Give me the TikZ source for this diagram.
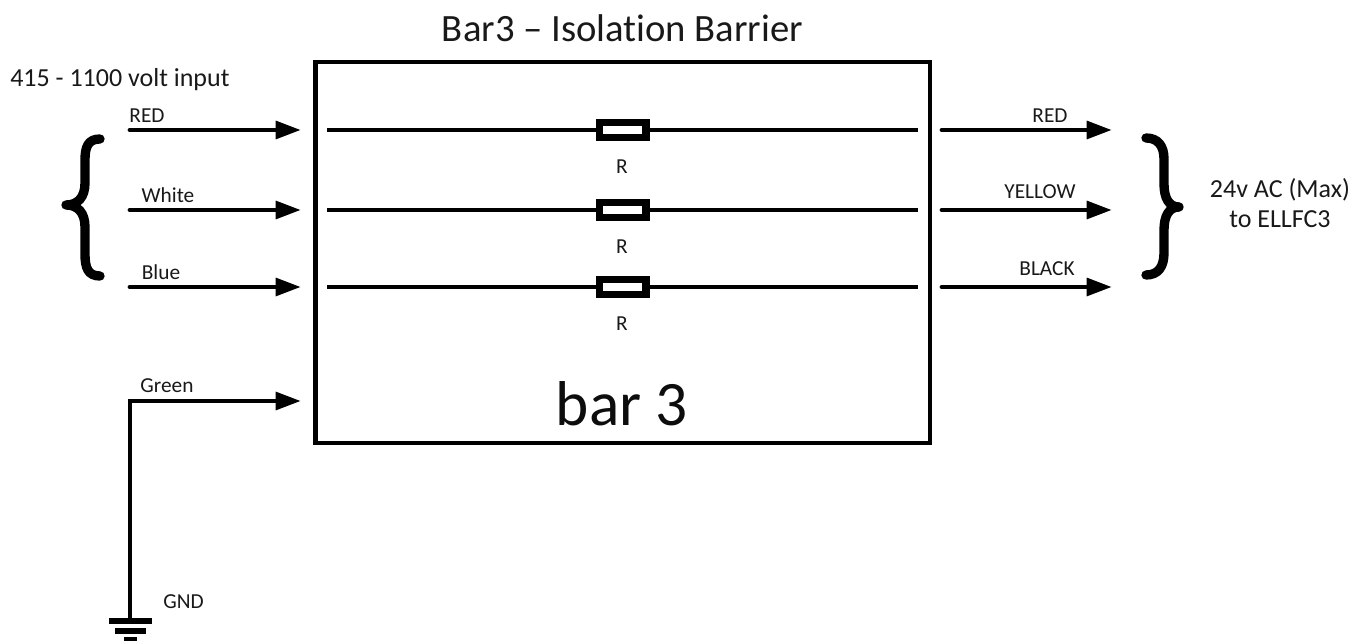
\documentclass[tikz,border=0pt]{standalone}
\usepackage{fontspec}
\setmainfont{Carlito}[Ligatures=NoCommon]
\usetikzlibrary{arrows.meta}
\tikzset{
  px/.style={x=0.75pt,y=-0.75pt},
  lead/.style={line width=3.7pt,line cap=round,-{Triangle[length=19pt,width=13pt,line cap=butt]}},
  wire/.style={line width=2.3pt},
  resistor/.style={draw,line width=5.5pt,minimum width=35pt,minimum height=11pt,inner sep=0pt,fill=white},
  brace/.style={line width=7pt,line cap=round,line join=round},
  smalltxt/.style={font=\fontsize{16pt}{18pt}\selectfont,inner sep=0pt,text=black!90},
  midtxt/.style={font=\fontsize{19.5pt}{22.5pt}\selectfont,inner sep=0pt,text=black!90,align=center},
  bartxt/.style={draw,line width=3.4pt,minimum width=461pt,minimum height=285.5pt,inner sep=0pt}
}
\begin{document}
\begin{tikzpicture}[px]
\useasboundingbox (0,0) rectangle (1364,641);
\node[midtxt,font=\fontsize{29pt}{32pt}\selectfont] (title) at (622.5,28) {Bar3 – Isolation Barrier};
\node[midtxt,anchor=west] (input) at (10,80) {415 - 1100 volt input};
\node[bartxt] (box) at (622.7,252.5) {};
\node[font=\fontsize{47.5pt}{50pt}\selectfont,inner sep=0pt,text=black!95] (barlabel) at (622,404) {bar 3};
% wires and resistors
\foreach \n/\y in {a/130,b/210,c/287}{
  \coordinate (wl\n) at (327,\y);
  \coordinate (wr\n) at (918,\y);
  \coordinate (il\n) at (130,\y);
  \coordinate (it\n) at (301,\y);
  \coordinate (ol\n) at (942,\y);
  \coordinate (ot\n) at (1112,\y);
  \draw[wire] (wl\n) -- (wr\n);
  \node[resistor] (r\n) at (622.5,\y) {};
  \node[smalltxt] (rt\n) at (622,\y+37) {R};
  \draw[lead] (il\n) -- (it\n);
  \draw[lead] (ol\n) -- (ot\n);
}
\node[smalltxt] at (147,115.5) {RED};
\node[smalltxt] at (168,195.5) {White};
\node[smalltxt] at (161,272) {Blue};
\node[smalltxt] at (1050,115.5) {RED};
\node[smalltxt] at (1040,192) {YELLOW};
\node[smalltxt] at (1047,268.5) {BLACK};
\node[smalltxt] at (167,386) {Green};
\node[smalltxt] at (183.5,602) {GND};
% ground
\coordinate (gcorner) at (130,401);
\coordinate (gtip) at (301,401);
\coordinate (gmid) at (130,563);
\coordinate (gend) at (130,621);
\draw[lead,line cap=butt] (gmid) -- (gcorner) -- (gtip);
\draw[line width=2.6pt] (gmid) -- (gend);
\draw[line width=4pt] (109,621) -- (152,621);
\draw[line width=4pt] (115,631) -- (146,631);
\draw[line width=4pt] (124,640) -- (137,640);
% braces
\draw[brace] (100,139) .. controls (88,139) and (85,147) .. (85,160)
  -- (85,183) .. controls (85,197) and (78,205) .. (66,205)
  .. controls (78,205) and (85,213) .. (85,227)
  -- (85,254) .. controls (85,268) and (88,276) .. (100,276);
\draw[brace] (1146,138) .. controls (1158,138) and (1164,146) .. (1164,159)
  -- (1164,184) .. controls (1164,198) and (1169,207) .. (1179,207)
  .. controls (1169,207) and (1164,216) .. (1164,230)
  -- (1164,253) .. controls (1164,267) and (1158,275) .. (1146,275);
\node[midtxt] (out) at (1280,203) {24v AC (Max)\\to ELLFC3};
\end{tikzpicture}
\end{document}
